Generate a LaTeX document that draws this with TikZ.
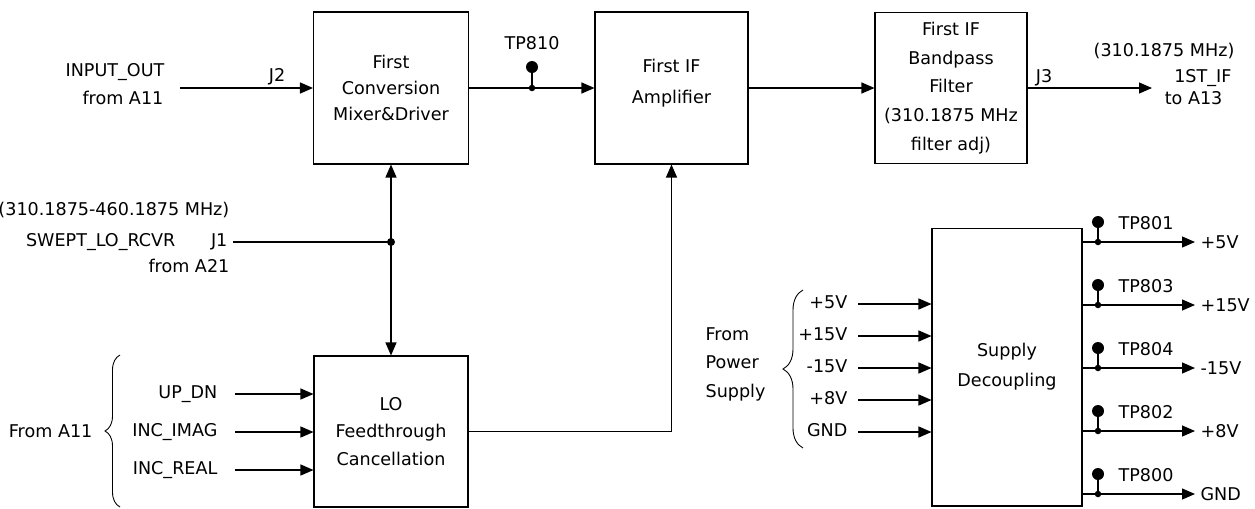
\documentclass[tikz,border=0pt]{standalone}
\usepackage{fontspec}
\setmainfont{DejaVu Sans}
\usetikzlibrary{arrows.meta,decorations.pathreplacing}

\tikzset{
    blk/.style={draw, line width=0.6pt, align=center, inner sep=0pt},
    lbl/.style={inner sep=0pt},
    bracket/.style={decorate, line width=0.5pt, decoration={brace, amplitude=#1}}
}

\begin{document}
\begin{tikzpicture}[x=0.02cm, y=-0.02cm, line width=0.7pt,
        >={Triangle[length=2.6mm,width=2.2mm]},
        font=\fontsize{10}{12}\selectfont]
            \useasboundingbox (0,0) rectangle (1255,508);

            \node[blk, minimum width=3.1cm, minimum height=3.04cm] (mixer) at (391,88)
                {First\\[2.7pt]Conversion\\[2.7pt]Mixer\&Driver};
            \node[blk, minimum width=3.06cm, minimum height=3.04cm] (ifamp) at (671.5,88)
                {First IF\\[5.6pt]Amplifier\\[-4pt]\mbox{}};
            \node[blk, minimum width=3.04cm, minimum height=3.02cm] (bpf) at (951,88)
                {First IF\\[4.4pt]Bandpass\\[4.4pt]Filter\\[4.4pt](310.1875 MHz\\[4.4pt]filter adj)};
            \node[blk, minimum width=3.08cm, minimum height=3.02cm] (lofc) at (391,431.5)
                {LO\\[3.6pt]Feedthrough\\[3.6pt]Cancellation};
            \node[blk, minimum width=3cm, minimum height=5.56cm] (supply) at (1007,367)
                {Supply\\[5pt]Decoupling};

            \coordinate (inp) at (180,88);
            \draw[->] (inp) -- (mixer.west);
            \node[lbl, anchor=mid east] (inname) at (165,72) {INPUT\_OUT};
            \node[lbl, anchor=mid east] (infrom) at (164,100) {from A11};
            \node[lbl, anchor=mid] (j2) at (277,77) {J2};

            \draw[->] (mixer.east) -- (ifamp.west);
            \coordinate (tp810) at (532,88);
            \draw (tp810) -- ++(0,-21) coordinate (tp810h);
            \fill (tp810) circle (0.065cm);
            \fill (tp810h) circle (0.12cm);
            \node[lbl, anchor=mid] (tp810lbl) at (532,45) {TP810};

            \draw[->] (ifamp.east) -- (bpf.west);
            \coordinate (ifout) at (1152,88);
            \draw[->] (bpf.east) -- (ifout);
            \node[lbl, anchor=mid] (j3) at (1044,78) {J3};
            \node[lbl, anchor=mid east] (iffreq) at (1235,52) {(310.1875 MHz)};
            \node[lbl, anchor=mid east] (ifname) at (1232,78) {1ST\_IF};
            \node[lbl, anchor=mid east] (ifto) at (1223,100) {to A13};

            \draw[<->] (mixer.south) -- (lofc.north);
            \coordinate (lo) at (233,242);
            \coordinate (lojn) at (lo -| mixer.south);
            \draw (lo) -- (lojn);
            \fill (lojn) circle (0.08cm);
            \node[lbl, anchor=mid east] (lofreq) at (230,211) {(310.1875-460.1875 MHz)};
            \node[lbl, anchor=mid east] (loname) at (176,242) {SWEPT\_LO\_RCVR};
            \node[lbl, anchor=mid east] (j1) at (228,242) {J1};
            \node[lbl, anchor=mid east] (lofrom) at (230,268) {from A21};

            \draw[->] (lofc.east) -| (ifamp.south);

            \foreach \y/\t [count=\i] in {394/UP\_DN, 432/INC\_IMAG, 470/INC\_REAL}{
                \coordinate (ain\i) at (235,\y);
                \node[lbl, anchor=mid east] (ainlbl\i) at (218,\y) {\t};
                \draw[->] (ain\i) -- (ain\i -| lofc.west);
            }
            \draw[bracket=0.3cm] (120,507) -- (120,355);
            \node[lbl, anchor=mid east] (a11) at (93,433) {From A11};

            \foreach \y/\t [count=\i] in {304/+5V, 336/+15V, 368/-15V, 400/+8V, 432/GND}{
                \coordinate (pin\i) at (858,\y);
                \node[lbl, anchor=mid east] (pinlbl\i) at (848,\y) {\t};
                \draw[->] (pin\i) -- (pin\i -| supply.west);
            }
            \draw[bracket=0.4cm] (803,448) -- (803,290);
            \node[lbl, anchor=west, align=left] (psu) at (705,364)
                {From\\[4.2pt]Power\\[4.2pt]Supply};

            \foreach \y/\tp/\v [count=\i] in {242/TP801/+5V, 305/TP803/+15V,
                    368/TP804/-15V, 431/TP802/+8V, 494/TP800/GND}{
                \coordinate (pout\i) at (1195,\y);
                \coordinate (tp\i) at (1098,\y);
                \draw[->] (pout\i -| supply.east) -- (pout\i);
                \draw (tp\i) -- ++(0,-20) coordinate (tph\i);
                \fill (tp\i) circle (0.065cm);
                \fill (tph\i) circle (0.12cm);
                \node[lbl, anchor=mid west] (tplbl\i) at (1118,{\y-17}) {\tp};
                \node[lbl, anchor=mid west] (poutlbl\i) at (1200,{\y+2}) {\v};
            }
        \end{tikzpicture}
\end{document}
